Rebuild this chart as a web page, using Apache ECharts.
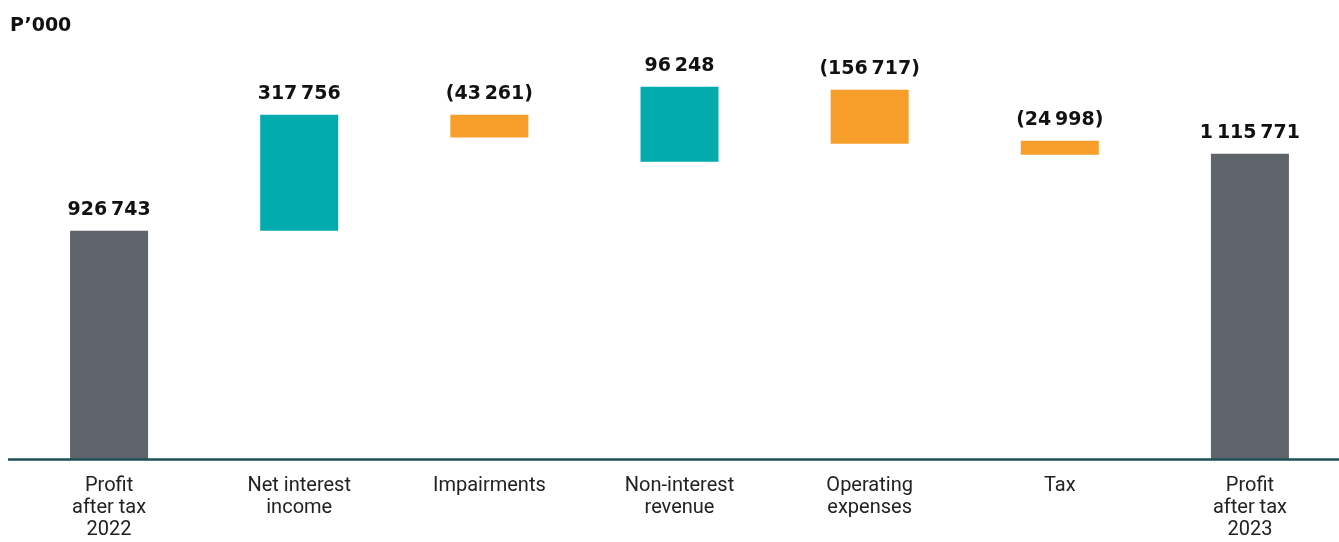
<!DOCTYPE html>
<html><head><meta charset="utf-8">
<script src="https://cdn.jsdelivr.net/npm/echarts@6/dist/echarts.min.js"></script>
<style>html,body{margin:0;padding:0;background:#fff;overflow:hidden}#c{width:1347px;height:542px}</style>
</head><body><div id="c"></div>
<script>
// Categories (x axis)
const categories = ['Profit\nafter tax\n2022', 'Net interest\nincome', 'Impairments', 'Non-interest\nrevenue', 'Operating\nexpenses', 'Tax', 'Profit\nafter tax\n2023'];
// Printed values (P'000)
const labelValues = [926743, 317756, -43261, 96248, -156717, -24998, 1115771];
// Bar extents as drawn in the reference (P'000 on the plotted scale; drawing is not to scale)
const barLow  = [0, 926743, 1306000, 1207000, 1280000, 1235700, 0];
const barHigh = [926743, 1398000, 1398000, 1512000, 1500000, 1292600, 1239700];
// Bar kinds: total / increase / decrease
const kinds = ['total', 'up', 'down', 'up', 'down', 'down', 'total'];
const kindColor = { total: '#5f636a', up: '#02abae', down: '#f79e2b' };

function fmt(v) {
  const s = Math.abs(v).toString().replace(/\B(?=(\d{3})+(?!\d))/g, '\u2009');
  return v < 0 ? '(' + s + ')' : s;
}

const chart = echarts.init(document.getElementById('c'));
chart.setOption({
  animation: false,
  title: { text: 'P\u2019000', left: 5, top: 12, textStyle: { fontFamily: 'DejaVu Sans', fontWeight: 'bold', fontSize: 19, color: '#111' } },
  grid: { left: 14, width: 1331, top: 65, bottom: 83 },
  xAxis: {
    type: 'category', data: categories,
    axisLine: { show: false }, axisTick: { show: false },
    axisLabel: { color: '#222', fontFamily: 'Roboto', fontSize: 20, lineHeight: 22, margin: 16, interval: 0 }
  },
  yAxis: { type: 'value', min: 0, max: 1600000, show: false, splitLine: { show: false } },
  series: [
    { type: 'bar', stack: 'w', barWidth: 78, silent: true, itemStyle: { color: 'transparent' }, data: barLow },
    {
      type: 'bar', stack: 'w', barWidth: 78,
      data: barHigh.map((h, i) => ({ value: h - barLow[i], itemStyle: { color: kindColor[kinds[i]] } })),
      label: {
        show: true, position: 'top', distance: 11,
        fontFamily: 'DejaVu Sans', fontWeight: 'bold', fontSize: 19, color: '#111',
        formatter: p => fmt(labelValues[p.dataIndex])
      }
    }
  ],
  graphic: [{ type: 'line', shape: { x1: 8, y1: 459.5, x2: 1339, y2: 459.5 }, style: { stroke: '#1d4f5a', lineWidth: 2.5 }, z: 10 }]
});
</script></body></html>
